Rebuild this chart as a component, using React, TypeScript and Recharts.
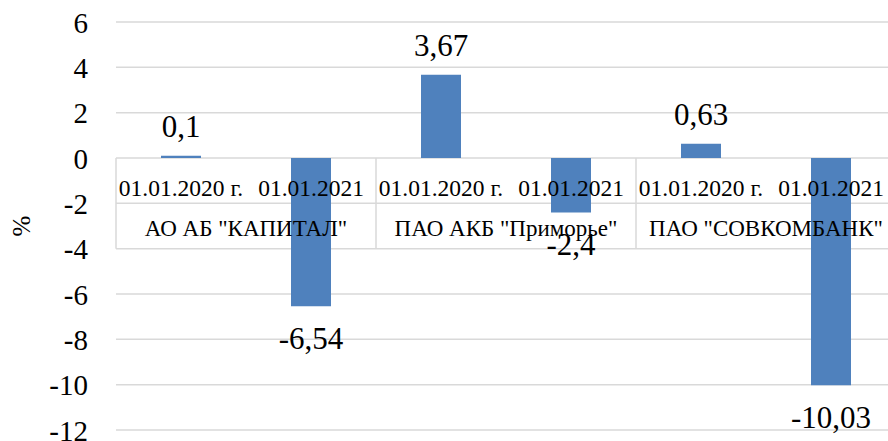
import { Bar, BarChart, CartesianGrid, LabelList, XAxis, YAxis } from "recharts";

const DATES = ["01.01.2020 г.", "01.01.2021", "01.01.2020 г.", "01.01.2021", "01.01.2020 г.", "01.01.2021"];
const BANKS = ['АО АБ "КАПИТАЛ"', 'ПАО АКБ "Приморье"', 'ПАО "СОВКОМБАНК"'];
const VALUES = [0.1, -6.54, 3.67, -2.4, 0.63, -10.03];
const Y_TICKS = [-12, -10, -8, -6, -4, -2, 0, 2, 4, 6];

const data = VALUES.map((v, i) => ({ date: DATES[i], bank: BANKS[Math.floor(i / 2)], value: v }));

const BLUE = "#4F81BD";
const GRID = "#D9D9D9";
const FONT = "'Times New Roman', 'Liberation Serif', Tinos, 'DejaVu Serif', serif";

// layout
const CHART_W = 910;
const CHART_H = 441;
const TOP = 22;
const BOTTOM = 10;
const X_AXIS_H = 1;
const LEFT = 116;
const RIGHT = 14;
const PLOT_H = CHART_H - TOP - BOTTOM - X_AXIS_H;
const BAND = (CHART_W - LEFT - RIGHT) / DATES.length;
const ZERO_Y = TOP + (PLOT_H * 6) / 18;
const ROW_H = (PLOT_H * 2) / 18;

const txt = (size: number) => ({ fontFamily: FONT, fontSize: size, fill: "#000" });

function DateTick(props: any) {
  const { x, index } = props;
  const i = index as number;
  return (
    <g>
      {i % 2 === 0 && (
        <line x1={x - BAND / 2} x2={x - BAND / 2} y1={ZERO_Y} y2={ZERO_Y + 2 * ROW_H} stroke={GRID} strokeWidth={1.5} />
      )}
      {i === DATES.length - 1 && (
        <line x1={x + BAND / 2} x2={x + BAND / 2} y1={ZERO_Y} y2={ZERO_Y + 2 * ROW_H} stroke={GRID} strokeWidth={1.5} />
      )}
      <text x={x} y={ZERO_Y + 37.5} textAnchor="middle" style={txt(23.5)}>
        {DATES[i]}
      </text>
      {i % 2 === 0 && (
        <text x={x + BAND / 2} y={ZERO_Y + 78} textAnchor="middle" style={txt(23)}>
          {BANKS[i / 2]}
        </text>
      )}
    </g>
  );
}

function ValueTick(props: any) {
  const { y, payload } = props;
  return (
    <text x={88} y={y + 10.5} textAnchor="end" style={txt(29)}>
      {payload.value}
    </text>
  );
}

function ValueLabel(props: any) {
  const { x, y, width, height, value } = props;
  const v = Number(value);
  const top = Math.min(y, y + height);
  const bottom = Math.max(y, y + height);
  const ty = v >= 0 ? top - 19 : bottom + 43;
  return (
    <text x={x + width / 2} y={ty} textAnchor="middle" style={txt(31)}>
      {String(v).replace(".", ",")}
    </text>
  );
}

function PercentLabel(props: any) {
  const vb = props.viewBox;
  const cy = vb.y + vb.height / 2;
  return (
    <text x={22} y={cy + 8} transform={`rotate(-90, 22, ${cy})`} textAnchor="middle" style={txt(25)}>
      %
    </text>
  );
}

export default function App() {
  return (
    <div style={{ position: "fixed", left: 0, top: 0, width: 888, height: 441, overflow: "hidden", background: "#fff" }}>
      <BarChart width={CHART_W} height={CHART_H} data={data} margin={{ top: TOP, right: RIGHT, bottom: BOTTOM, left: 0 }}>
        <CartesianGrid vertical={false} stroke={GRID} strokeWidth={1.5} />
        <YAxis
          type="number"
          domain={[-12, 6]}
          ticks={Y_TICKS}
          width={LEFT}
          axisLine={false}
          tickLine={false}
          tick={<ValueTick />}
          label={<PercentLabel />}
        />
        <Bar dataKey="value" fill={BLUE} barSize={40} isAnimationActive={false}>
          <LabelList dataKey="value" content={<ValueLabel />} />
        </Bar>
        <XAxis dataKey="date" height={X_AXIS_H} axisLine={false} tickLine={false} interval={0} tick={<DateTick />} />
      </BarChart>
    </div>
  );
}
